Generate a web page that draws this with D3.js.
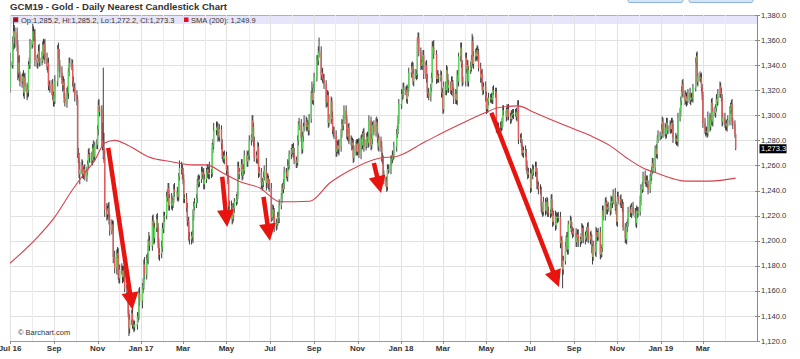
<!DOCTYPE html>
<html><head><meta charset="utf-8">
<script src="https://cdn.jsdelivr.net/npm/d3@7"></script>
<style>
body{margin:0;background:#fff}
svg{display:block;font-family:"Liberation Sans",Arial,sans-serif}
</style>
</head><body>
<svg id="c" width="800" height="359"></svg>
<script>
// ---------------- DATA ----------------
const months = ["2016-07","2016-08","2016-09","2016-10","2016-11","2016-12",
 "2017-01","2017-02","2017-03","2017-04","2017-05","2017-06","2017-07","2017-08","2017-09","2017-10","2017-11","2017-12",
 "2018-01","2018-02","2018-03","2018-04","2018-05","2018-06","2018-07","2018-08","2018-09","2018-10","2018-11","2018-12",
 "2019-01","2019-02","2019-03","2019-04"];
const firstOpen = 1322;
const closeByMonth = [
 [1340,1341,1357,1367,1362,1366,1356,1334,1342,1332,1327,1329,1331,1318,1330,1323,1318,1320,1340,1341,1357],
 [1357,1367,1364,1363,1344,1342,1346,1351,1343,1343,1347,1356,1349,1357,1345,1339,1342,1324,1324,1321,1325,1316,1311],
 [1314,1327,1327,1353,1349,1340,1334,1328,1324,1326,1314,1310,1318,1318,1335,1341,1342,1340,1327,1322,1322,1316],
 [1313,1269,1266,1253,1257,1260,1253,1255,1257,1251,1255,1261,1269,1267,1267,1264,1274,1267,1268,1276,1277],
 [1289,1308,1303,1304,1280,1275,1274,1266,1225,1221,1224,1226,1217,1208,1213,1212,1187,1187,1178,1189,1190,1173],
 [1170,1177,1176,1171,1176,1171,1162,1159,1161,1142,1130,1137,1142,1133,1133,1131,1133,1133,1139,1140,1158,1152],
 [1152,1162,1165,1181,1173,1185,1186,1196,1200,1196,1196,1216,1212,1202,1210,1217,1211,1198,1189,1190,1195,1210],
 [1210,1219,1220,1235,1236,1242,1228,1234,1228,1230,1233,1241,1239,1239,1235,1236,1251,1258,1257,1254],
 [1249,1234,1234,1226,1216,1215,1203,1201,1204,1203,1220,1227,1230,1234,1245,1248,1247,1249,1255,1253,1254,1245,1249],
 [1254,1257,1254,1253,1254,1254,1274,1277,1288,1288,1290,1291,1283,1283,1289,1277,1268,1267,1265,1268],
 [1256,1256,1249,1228,1228,1227,1217,1220,1226,1231,1233,1236,1259,1253,1255,1261,1252,1257,1256,1268,1268,1263,1268],
 [1268,1280,1282,1296,1291,1279,1266,1268,1265,1275,1254,1255,1246,1244,1247,1251,1256,1246,1250,1249,1245,1242],
 [1219,1219,1225,1222,1212,1213,1215,1219,1218,1228,1234,1242,1241,1245,1255,1254,1251,1260,1260,1269,1270],
 [1273,1274,1270,1264,1262,1263,1280,1292,1294,1282,1273,1283,1291,1291,1295,1291,1292,1288,1297,1315,1318,1312,1322],
 [1330,1330,1344,1344,1350,1351,1332,1334,1329,1329,1325,1310,1311,1316,1294,1297,1311,1299,1288,1287,1284],
 [1271,1273,1276,1273,1275,1285,1293,1292,1296,1304,1297,1285,1283,1290,1280,1280,1276,1278,1266,1272,1277,1271],
 [1277,1278,1269,1281,1276,1283,1286,1275,1278,1282,1283,1278,1296,1276,1281,1292,1292,1287,1295,1294,1282,1275],
 [1280,1275,1266,1265,1252,1248,1247,1243,1257,1257,1257,1264,1265,1268,1268,1275,1275,1285,1289,1296,1309],
 [1309,1317,1316,1322,1320,1320,1313,1319,1322,1334,1334,1337,1339,1327,1333,1332,1333,1358,1362,1351,1340,1340,1343],
 [1348,1333,1340,1329,1318,1318,1315,1322,1330,1355,1354,1349,1349,1329,1332,1330,1330,1332,1318,1318],
 [1305,1323,1320,1336,1329,1322,1324,1320,1327,1325,1318,1313,1317,1312,1332,1327,1347,1354,1341,1327,1327,1327],
 [1346,1337,1340,1327,1336,1339,1344,1359,1341,1347,1350,1347,1352,1349,1338,1330,1333,1323,1320,1323,1315],
 [1305,1306,1311,1314,1314,1313,1313,1320,1319,1318,1290,1291,1289,1291,1291,1291,1295,1304,1303,1303,1299,1305,1305],
 [1299,1297,1300,1301,1301,1302,1302,1299,1303,1308,1281,1282,1278,1272,1270,1272,1270,1260,1256,1253,1254],
 [1242,1253,1253,1257,1255,1259,1255,1245,1244,1241,1240,1227,1224,1223,1231,1224,1228,1231,1223,1222,1222,1233],
 [1223,1215,1220,1212,1219,1219,1218,1219,1198,1200,1185,1177,1184,1195,1201,1203,1193,1213,1216,1211,1208,1206,1206],
 [1206,1199,1203,1205,1199,1200,1202,1210,1208,1201,1204,1203,1207,1211,1201,1204,1201,1194,1187,1196],
 [1191,1207,1203,1204,1207,1189,1191,1194,1224,1220,1231,1228,1225,1226,1227,1224,1231,1230,1232,1238,1228,1225,1215],
 [1235,1232,1233,1230,1229,1227,1211,1202,1201,1211,1214,1223,1225,1222,1227,1227,1223,1222,1214,1224,1222,1223],
 [1232,1241,1241,1243,1252,1248,1247,1248,1245,1241,1249,1252,1256,1262,1258,1273,1273,1269,1281,1284,1284],
 [1284,1289,1295,1286,1290,1285,1294,1289,1289,1292,1289,1294,1293,1282,1282,1280,1281,1279,1298,1303,1311,1319,1325],
 [1317,1312,1315,1311,1314,1318,1312,1314,1314,1314,1322,1322,1342,1347,1327,1331,1330,1330,1322,1316],
 [1294,1288,1287,1287,1286,1299,1291,1296,1310,1295,1303,1302,1306,1313,1311,1317,1323,1318,1314,1295,1298],
 [1293,1292,1291,1294,1296,1304,1306,1309,1295,1293,1285.2,1273.3]
];
const hiWickByMonth = [
 [10,2,6,10,5,4,4,4,5,6,3,4,3,5,3,4,3,4,3,5,4],
 [3,6,4,4,6,4,3,5,6,3,4,3,5,3,4,5,3,4,3,4,3,4,3],
 [4,5,0,3,5,4,4,5,4,5,3,4,4,5,3,5,4,3,4,4,3,4],
 [4,3,5,4,6,5,4,4,3,4,4,3,4,5,3,4,3,6,4,3,4],
 [3,4,5,3,4,14,63,12,6,5,4,4,5,4,4,3,4,0,5,4,5,4],
 [4,4,5,4,4,4,5,3,4,4,3,4,3,4,3,4,3,0,4,3,4,5],
 [0,4,5,4,6,4,4,5,7,4,0,4,5,4,4,4,5,3,4,4,5,4],
 [5,4,3,4,5,4,4,3,4,4,3,4,5,0,4,4,3,6,5,4],
 [4,4,3,4,4,3,4,4,3,4,5,4,4,3,4,4,5,3,4,4,3,4,4],
 [4,4,4,5,9,3,4,4,6,0,5,4,3,4,4,3,4,3,4,4],
 [3,4,4,3,4,4,3,4,4,3,4,3,4,4,3,4,4,3,4,4,0,4,3],
 [4,4,3,4,4,3,4,3,4,4,3,4,3,4,3,4,4,10,3,4,3,4],
 [4,0,4,3,4,4,3,4,4,5,4,3,4,4,4,3,4,5,4,3,4],
 [4,3,4,4,3,4,4,3,4,3,4,4,3,9,4,3,4,3,4,4,9,4,3],
 [4,0,4,4,5,11,4,3,4,4,4,3,4,4,3,4,4,3,4,3,4],
 [4,3,4,4,6,4,4,3,4,4,4,3,4,3,4,4,3,4,3,4,3,4],
 [4,3,4,3,4,4,3,4,3,4,4,3,4,3,4,3,0,4,3,4,3,4],
 [4,3,4,4,3,4,3,4,4,3,4,4,3,4,3,4,0,4,3,4,4],
 [0,4,3,4,4,3,4,4,3,4,0,5,4,3,4,4,3,4,4,4,3,4,4],
 [4,4,3,4,4,3,4,3,4,4,4,6,0,3,4,4,3,4,3,4],
 [3,4,4,4,3,4,4,3,4,4,3,4,4,3,4,4,3,4,4,3,4,0],
 [4,4,4,4,3,4,4,6,4,4,3,4,4,3,4,4,3,4,4,3,4],
 [4,4,3,4,3,4,4,3,4,3,4,3,4,3,4,4,3,4,4,0,3,4,3],
 [4,3,4,3,4,3,3,4,3,4,4,3,4,3,4,3,4,3,4,3,4],
 [4,4,0,4,3,4,4,3,4,3,4,3,4,3,4,3,4,4,3,4,3,4],
 [4,3,4,4,3,4,3,4,4,3,4,3,4,4,3,4,4,3,4,3,4,3,4],
 [0,4,3,4,4,3,4,4,3,4,3,4,4,3,4,3,4,4,3,4],
 [4,4,3,4,3,4,4,3,4,4,3,4,4,3,4,3,5,4,3,3,4,3,4],
 [4,4,3,4,3,4,4,3,4,4,3,4,3,4,3,0,4,3,4,4,3,4],
 [4,4,0,4,3,4,3,4,4,3,4,4,3,4,4,3,0,4,3,4,3],
 [0,4,4,3,4,3,4,4,3,4,3,4,4,3,0,4,3,4,4,3,4,4,3],
 [4,3,4,3,4,3,4,3,4,4,3,0,4,3,4,3,4,3,4,3],
 [3,4,3,4,3,4,3,4,3,4,3,4,3,4,3,4,4,3,4,3,4],
 [4,3,4,3,4,3,4,3,4,3,3,0]
];
const loWickByMonth = [
 [4,2,4,5,9,8,5,6,4,5,4,5,4,3,5,4,6,4,5,3,4],
 [4,3,5,4,5,4,5,3,4,4,3,5,4,5,4,3,5,4,4,3,5,4,4],
 [4,5,0,4,4,5,4,3,5,4,4,3,4,3,5,4,3,4,4,3,4,5],
 [5,3,4,3,8,4,3,4,4,3,4,3,4,4,5,3,4,3,4,4,3],
 [4,5,3,4,5,3,9,4,6,5,4,5,4,4,3,4,5,0,4,5,3,4],
 [4,4,3,5,4,4,3,4,5,3,6,4,4,3,4,4,3,0,4,4,3,4],
 [0,6,4,4,4,4,3,5,4,4,0,4,4,5,4,3,4,4,4,5,4,4],
 [4,4,4,3,4,3,4,4,3,4,4,3,4,0,3,4,4,3,4,5],
 [4,4,4,3,4,4,3,4,4,3,5,4,3,4,4,3,4,4,3,4,3,4,4],
 [3,4,4,4,4,4,3,4,4,0,4,4,4,3,4,4,3,4,3,4],
 [4,3,4,4,3,4,4,3,4,4,3,4,3,4,4,3,4,3,4,3,0,4,4],
 [3,4,4,3,4,4,3,4,4,3,4,3,4,4,3,4,3,6,4,3,4,3],
 [4,0,3,4,5,4,4,3,4,4,3,4,4,3,4,4,3,4,4,3,4],
 [3,4,4,3,4,4,3,4,4,3,4,3,4,4,3,4,3,4,4,3,4,3,4],
 [4,0,3,4,4,4,4,4,3,4,4,4,3,4,4,3,4,4,3,4,3],
 [4,4,3,4,5,4,3,4,4,3,4,4,3,4,3,4,4,3,4,3,4,3],
 [3,4,3,4,4,3,4,4,3,4,3,4,3,4,3,4,0,3,4,3,4,3],
 [4,4,3,4,4,3,4,4,3,4,3,4,4,3,4,3,0,4,3,4,3],
 [0,4,4,3,4,4,3,4,4,3,0,4,4,3,4,3,4,4,3,4,4,3,4],
 [3,4,4,3,4,4,3,4,3,4,3,4,0,4,3,4,4,3,4,3],
 [4,3,4,4,3,4,4,3,4,4,3,4,4,3,4,3,4,4,3,4,3,0],
 [4,3,4,4,4,3,4,4,3,4,4,3,4,4,3,4,4,3,4,3,4],
 [4,3,4,3,4,3,4,4,3,4,4,3,4,3,3,4,3,4,3,0,4,3,4],
 [3,4,3,4,3,4,3,3,4,3,4,3,3,4,3,4,3,4,3,4,3],
 [4,3,0,4,3,4,3,4,3,4,3,4,3,4,3,4,3,3,4,3,4,3],
 [3,4,3,4,3,4,4,3,4,4,6,15,4,3,4,3,4,4,3,4,3,4,3],
 [0,4,4,3,4,4,3,4,4,3,4,3,4,4,3,4,3,4,6,3],
 [3,4,4,3,4,4,3,4,3,4,4,3,4,4,3,4,3,4,4,3,4,4,3],
 [4,3,4,4,3,4,3,4,3,4,4,3,4,3,4,0,3,4,3,4,4,3],
 [3,4,0,3,4,3,4,4,3,4,3,4,4,3,4,4,0,3,4,3,4],
 [0,3,4,4,3,4,3,4,4,3,4,3,4,4,0,3,4,3,4,3,4,3,4],
 [3,4,3,4,3,4,3,4,3,3,4,0,3,4,3,4,3,4,3,4],
 [4,3,4,3,4,3,4,3,4,3,4,3,4,3,4,3,3,4,3,4,3],
 [3,4,3,4,3,4,3,4,3,4,3,1.1]
];
// 200-day SMA
const smaDates = ["2016-07-01","2016-08-09","2016-09-02","2016-09-26","2016-10-14","2016-10-28","2016-11-11","2016-11-25","2016-12-14",
 "2017-01-11","2017-02-13","2017-03-14","2017-04-03","2017-04-26","2017-05-20","2017-06-17","2017-07-15","2017-08-26","2017-09-23",
 "2017-10-21","2017-12-03","2017-12-24","2018-02-04","2018-03-22","2018-04-29","2018-05-17","2018-06-14","2018-07-08","2018-08-19",
 "2018-09-23","2018-10-21","2018-11-14","2018-12-07","2018-12-26","2019-02-06","2019-03-11","2019-04-16"];
const smaValues = [1182,1203,1219,1240,1254,1264,1278,1280,1276,
 1267,1263,1260.5,1260.5,1254,1247,1242,1231,1231.5,1246,
 1256,1266,1267,1279,1292,1302,1306,1307.5,1302,1292,
 1284,1276,1266,1258,1254,1247.5,1247.5,1249.9];
// x axis
const tickDates = ["2016-07-01","2016-09-01","2016-11-01","2017-01-01","2017-03-01","2017-05-01","2017-07-01","2017-09-01","2017-11-01",
 "2018-01-01","2018-03-01","2018-05-01","2018-07-01","2018-09-01","2018-11-01","2019-01-01","2019-03-01"];
const tickLabels = ["Jul 16","Sep","Nov","Jan 17","Mar","May","Jul","Sep","Nov","Jan 18","Mar","May","Jul","Sep","Nov","Jan 19","Mar"];
const yTicks = [1120,1140,1160,1180,1200,1220,1240,1260,1280,1300,1320,1340,1360,1380];
// red annotation arrows (date, price)
const arrowFrom = [["2016-11-16",1274],["2017-04-25",1251],["2017-06-22",1235],["2017-11-24",1262],["2018-05-08",1302]];
const arrowTo   = [["2016-12-20",1145],["2017-05-02",1211],["2017-07-01",1200],["2017-12-04",1238],["2018-08-11",1163]];

// ---------------- CHART ----------------
const svg = d3.select("#c");
const parse = d3.timeParse("%Y-%m-%d");
const L = 10, R = 757, T = 15, B = 341;
const x = d3.scaleTime().domain([parse("2016-07-01"), parse("2019-05-16")]).range([L, R]);
const y = d3.scaleLinear().domain([1120, 1380]).range([B, T]);

// build candles
const candles = [];
let prev = firstOpen;
months.forEach((m, mi) => {
  const [yy, mm] = m.split("-").map(Number);
  const days = [];
  for (let d = new Date(yy, mm - 1, 1); d.getMonth() === mm - 1; d.setDate(d.getDate() + 1)) {
    const w = d.getDay(); if (w > 0 && w < 6) days.push(new Date(d));
  }
  closeByMonth[mi].forEach((c, i) => {
    const o = prev;
    const hw = hiWickByMonth[mi][i] ?? 3, lw = loWickByMonth[mi][i] ?? 3;
    candles.push({date: days[i], o, c, h: Math.max(o, c) + hw, l: Math.min(o, c) - lw});
    prev = c;
  });
});

// top-right buttons
svg.append("rect").attr("x",628).attr("y",-6).attr("width",55).attr("height",8.5).attr("rx",2)
  .attr("fill","#d3e6f7").attr("stroke","#8fb3d6");
svg.append("rect").attr("x",689).attr("y",-6).attr("width",64).attr("height",8.5).attr("rx",2)
  .attr("fill","#d3e6f7").attr("stroke","#8fb3d6");

// title
svg.append("text").attr("x",10).attr("y",10).attr("font-size",9.6).attr("font-weight","bold").attr("fill","#333")
  .text("GCM19 - Gold - Daily Nearest Candlestick Chart");

// legend band
svg.append("rect").attr("x",L).attr("y",T).attr("width",R-L).attr("height",9).attr("fill","#e7e5fb");

// grid
const grid = svg.append("g").attr("shape-rendering","crispEdges");
grid.selectAll(".hg").data(yTicks).join("line")
  .attr("x1",L).attr("x2",R).attr("y1",d=>Math.round(y(d))+0.5).attr("y2",d=>Math.round(y(d))+0.5)
  .attr("stroke",d=>d===1380?"#b0b0b0":"#e1e1e1");
const monthLines = d3.timeMonth.range(parse("2016-07-01"), parse("2019-05-01"));
grid.selectAll(".vg").data(monthLines).join("line")
  .attr("x1",d=>Math.round(x(d))+0.5).attr("x2",d=>Math.round(x(d))+0.5).attr("y1",T).attr("y2",B)
  .attr("stroke",d=>(d.getMonth()%2===0)?"#e2e2e2":"#ececec");

// clip
svg.append("clipPath").attr("id","clip").append("rect").attr("x",L).attr("y",T).attr("width",R-L).attr("height",B-T);
const plot = svg.append("g").attr("clip-path","url(#clip)");

// candles
const cg = plot.append("g");
cg.selectAll(".w").data(candles).join("line")
  .attr("x1",d=>x(d.date)).attr("x2",d=>x(d.date)).attr("y1",d=>y(d.h)).attr("y2",d=>y(d.l))
  .attr("stroke","#2a2a2a").attr("stroke-width",0.9);
cg.selectAll(".b").data(candles).join("rect")
  .attr("x",d=>x(d.date)-0.7).attr("width",1.4)
  .attr("y",d=>y(Math.max(d.o,d.c))).attr("height",d=>Math.max(0.8,Math.abs(y(d.o)-y(d.c))))
  .attr("fill",d=>d.c>=d.o?"#5cd65c":"#e35a5a");

// SMA
const sma = smaDates.map((d,i)=>({date:parse(d), v:smaValues[i]}));
plot.append("path").datum(sma)
  .attr("d", d3.line().x(d=>x(d.date)).y(d=>y(d.v)).curve(d3.curveMonotoneX))
  .attr("fill","none").attr("stroke","#d6404c").attr("stroke-width",1.1);

// arrows
const ag = svg.append("g");
arrowFrom.forEach((a,i)=>{
  const x1 = x(parse(a[0])), y1 = y(a[1]), x2 = x(parse(arrowTo[i][0])), y2 = y(arrowTo[i][1]);
  const dx = x2-x1, dy = y2-y1, len = Math.hypot(dx,dy), ux = dx/len, uy = dy/len;
  const hl = 17, hw = 8.5;
  const bx = x2-ux*hl, by = y2-uy*hl;
  ag.append("line").attr("x1",x1).attr("y1",y1).attr("x2",bx+ux*2).attr("y2",by+uy*2)
    .attr("stroke","#e8140f").attr("stroke-width",4.5);
  ag.append("path").attr("d",`M${x2},${y2}L${bx-uy*hw},${by+ux*hw}L${bx+uy*hw},${by-ux*hw}Z`).attr("fill","#e8140f");
});

// right axis
const ax = svg.append("g").attr("shape-rendering","crispEdges");
ax.append("line").attr("x1",R+0.5).attr("x2",R+0.5).attr("y1",T).attr("y2",B+1).attr("stroke","#8a8a8a");
ax.selectAll(".yt").data(yTicks).join("line")
  .attr("x1",R-2).attr("x2",R+3).attr("y1",d=>Math.round(y(d))+0.5).attr("y2",d=>Math.round(y(d))+0.5).attr("stroke","#8a8a8a");
svg.selectAll(".yl").data(yTicks).join("text")
  .attr("x",R+4).attr("y",d=>y(d)+2.6).attr("font-size",7.6).attr("fill","#333")
  .text(d=>d3.format(",.1f")(d));

// bottom axis
ax.append("line").attr("x1",L).attr("x2",R).attr("y1",B+0.5).attr("y2",B+0.5).attr("stroke","#9a9a9a");
const td = tickDates.map(parse);
ax.selectAll(".xt").data(td).join("line")
  .attr("x1",d=>Math.round(x(d))+0.5).attr("x2",d=>Math.round(x(d))+0.5).attr("y1",B).attr("y2",B+3).attr("stroke","#8a8a8a");
svg.selectAll(".xl").data(td).join("text")
  .attr("x",d=>x(d)).attr("y",B+9.5).attr("text-anchor","middle").attr("font-size",8).attr("font-weight","bold").attr("fill","#333")
  .text((d,i)=>tickLabels[i]);

// legend
const last = candles[candles.length-1];
const f1 = d3.format(",.1f");
svg.append("rect").attr("x",13.5).attr("y",17.5).attr("width",4.5).attr("height",4.5).attr("fill","#a3101a").attr("stroke","#555").attr("stroke-width",0.5);
svg.append("text").attr("x",21).attr("y",22.6).attr("font-size",7.5).attr("fill","#333")
  .text(`Op:${f1(last.o)}, Hi:${f1(last.h)}, Lo:${f1(last.l)}, Cl:${f1(last.c)}`);
svg.append("rect").attr("x",184).attr("y",17.5).attr("width",4.5).attr("height",4.5).attr("fill","#e0102a");
svg.append("text").attr("x",191).attr("y",22.6).attr("font-size",7.5).attr("fill","#333")
  .text(`SMA (200): ${f1(smaValues[smaValues.length-1])}`);

// credit
svg.append("text").attr("x",18).attr("y",335).attr("font-size",7.5).attr("fill","#333").text("© Barchart.com");

// last price tag
svg.append("rect").attr("x",R+2.5).attr("y",y(last.c)-4.5).attr("width",27).attr("height",9).attr("fill","#000");
svg.append("text").attr("x",R+4).attr("y",y(last.c)+2.7).attr("font-size",7.6).attr("fill","#fff").text(f1(last.c));
</script>
</body></html>
